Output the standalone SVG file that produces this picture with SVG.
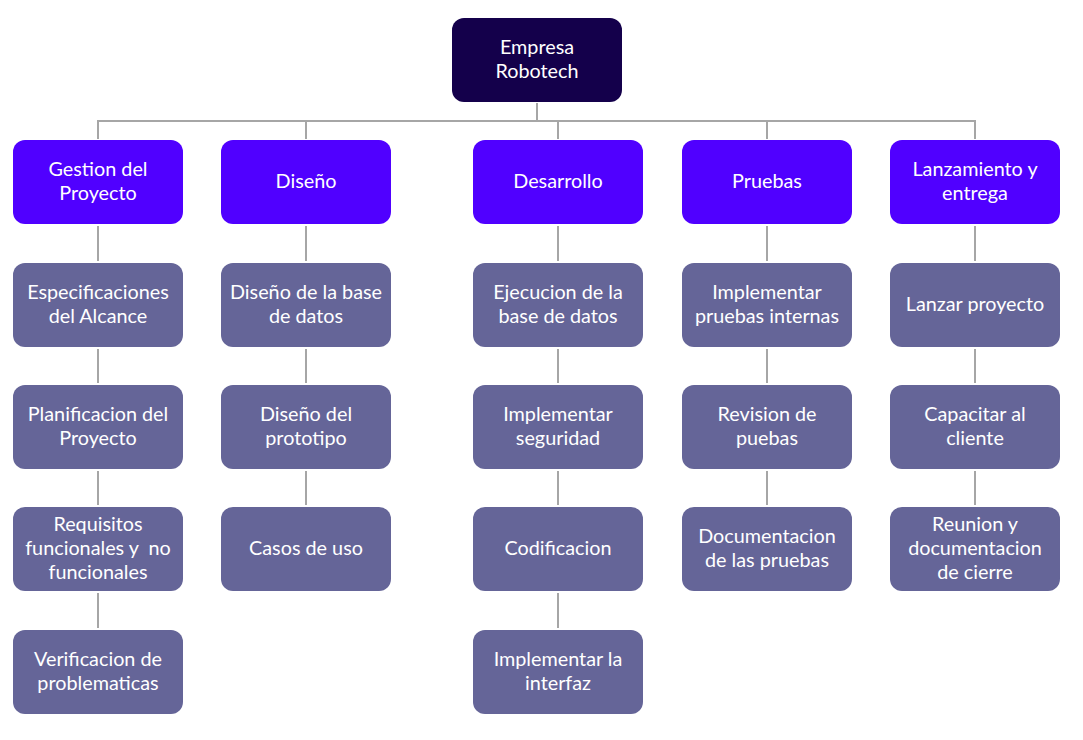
<svg xmlns="http://www.w3.org/2000/svg" width="1083" height="740" viewBox="0 0 1083 740">
<style>
.root{fill:#14004b}
.l1{fill:#5000ff}
.l2{fill:#656598}
text{font-family:Lato,"Open Sans","Liberation Sans",sans-serif;font-size:19.8px;fill:#ffffff;text-anchor:middle}
.c line{stroke:#a6a6a6;stroke-width:2}
</style>
<rect width="1083" height="740" fill="#ffffff"/>
<g class="c" id="connectors">
<line x1="537" y1="103" x2="537" y2="121"/>
<line x1="97" y1="121" x2="976" y2="121"/>
<line x1="98" y1="121" x2="98" y2="139"/>
<line x1="306" y1="121" x2="306" y2="139"/>
<line x1="558" y1="121" x2="558" y2="139"/>
<line x1="767" y1="121" x2="767" y2="139"/>
<line x1="975" y1="121" x2="975" y2="139"/>
<line x1="98" y1="226" x2="98" y2="261"/>
<line x1="98" y1="349" x2="98" y2="383"/>
<line x1="98" y1="471" x2="98" y2="505"/>
<line x1="98" y1="593" x2="98" y2="628"/>
<line x1="306" y1="226" x2="306" y2="261"/>
<line x1="306" y1="349" x2="306" y2="383"/>
<line x1="306" y1="471" x2="306" y2="505"/>
<line x1="558" y1="226" x2="558" y2="261"/>
<line x1="558" y1="349" x2="558" y2="383"/>
<line x1="558" y1="471" x2="558" y2="505"/>
<line x1="558" y1="593" x2="558" y2="628"/>
<line x1="767" y1="226" x2="767" y2="261"/>
<line x1="767" y1="349" x2="767" y2="383"/>
<line x1="767" y1="471" x2="767" y2="505"/>
<line x1="975" y1="226" x2="975" y2="261"/>
<line x1="975" y1="349" x2="975" y2="383"/>
<line x1="975" y1="471" x2="975" y2="505"/>
</g>
<g id="root"><rect class="root" x="452" y="18" width="170" height="84" rx="12"/><text x="537" y="54">Empresa</text><text x="537" y="78">Robotech</text></g>
<g id="gestion"><rect class="l1" x="13" y="140" width="170" height="84" rx="12"/><text x="98" y="176">Gestion del</text><text x="98" y="200">Proyecto</text></g>
<g id="diseno"><rect class="l1" x="221" y="140" width="170" height="84" rx="12"/><text x="306" y="188">Diseño</text></g>
<g id="desarrollo"><rect class="l1" x="473" y="140" width="170" height="84" rx="12"/><text x="558" y="188">Desarrollo</text></g>
<g id="pruebas"><rect class="l1" x="682" y="140" width="170" height="84" rx="12"/><text x="767" y="188">Pruebas</text></g>
<g id="lanzamiento"><rect class="l1" x="890" y="140" width="170" height="84" rx="12"/><text x="975" y="176">Lanzamiento y</text><text x="975" y="200">entrega</text></g>

<g id="especificaciones"><rect class="l2" x="13" y="263" width="170" height="84" rx="12"/><text x="98" y="299">Especificaciones</text><text x="98" y="323">del Alcance</text></g>
<g id="planificacion"><rect class="l2" x="13" y="385" width="170" height="84" rx="12"/><text x="98" y="421">Planificacion del</text><text x="98" y="445">Proyecto</text></g>
<g id="requisitos"><rect class="l2" x="13" y="507" width="170" height="84" rx="12"/><text x="98" y="531">Requisitos</text><text x="98" y="555" xml:space="preserve">funcionales y  no</text><text x="98" y="579">funcionales</text></g>
<g id="verificacion"><rect class="l2" x="13" y="630" width="170" height="84" rx="12"/><text x="98" y="666">Verificacion de</text><text x="98" y="690">problematicas</text></g>

<g id="disenobd"><rect class="l2" x="221" y="263" width="170" height="84" rx="12"/><text x="306" y="299">Diseño de la base</text><text x="306" y="323">de datos</text></g>
<g id="disenoproto"><rect class="l2" x="221" y="385" width="170" height="84" rx="12"/><text x="306" y="421">Diseño del</text><text x="306" y="445">prototipo</text></g>
<g id="casos"><rect class="l2" x="221" y="507" width="170" height="84" rx="12"/><text x="306" y="555">Casos de uso</text></g>

<g id="ejecucion"><rect class="l2" x="473" y="263" width="170" height="84" rx="12"/><text x="558" y="299">Ejecucion de la</text><text x="558" y="323">base de datos</text></g>
<g id="seguridad"><rect class="l2" x="473" y="385" width="170" height="84" rx="12"/><text x="558" y="421">Implementar</text><text x="558" y="445">seguridad</text></g>
<g id="codificacion"><rect class="l2" x="473" y="507" width="170" height="84" rx="12"/><text x="558" y="555">Codificacion</text></g>
<g id="interfaz"><rect class="l2" x="473" y="630" width="170" height="84" rx="12"/><text x="558" y="666">Implementar la</text><text x="558" y="690">interfaz</text></g>

<g id="internas"><rect class="l2" x="682" y="263" width="170" height="84" rx="12"/><text x="767" y="299">Implementar</text><text x="767" y="323">pruebas internas</text></g>
<g id="revision"><rect class="l2" x="682" y="385" width="170" height="84" rx="12"/><text x="767" y="421">Revision de</text><text x="767" y="445">puebas</text></g>
<g id="documentacion"><rect class="l2" x="682" y="507" width="170" height="84" rx="12"/><text x="767" y="543">Documentacion</text><text x="767" y="567">de las pruebas</text></g>

<g id="lanzar"><rect class="l2" x="890" y="263" width="170" height="84" rx="12"/><text x="975" y="311">Lanzar proyecto</text></g>
<g id="capacitar"><rect class="l2" x="890" y="385" width="170" height="84" rx="12"/><text x="975" y="421">Capacitar al</text><text x="975" y="445">cliente</text></g>
<g id="reunion"><rect class="l2" x="890" y="507" width="170" height="84" rx="12"/><text x="975" y="531">Reunion y</text><text x="975" y="555">documentacion</text><text x="975" y="579">de cierre</text></g>
</svg>
